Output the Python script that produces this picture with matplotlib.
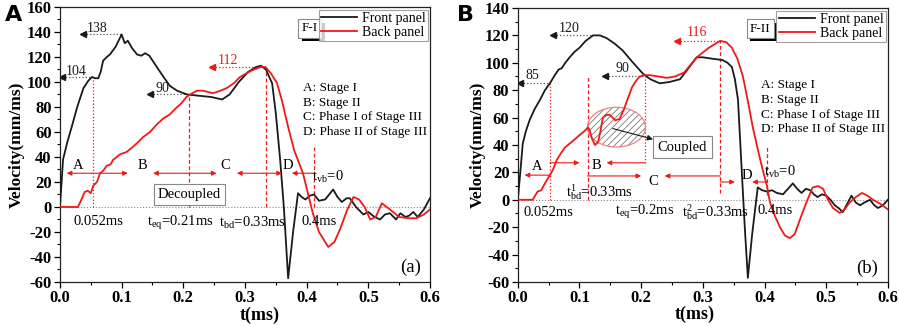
import numpy as np
import matplotlib
matplotlib.use('Agg')
import matplotlib.pyplot as plt
import matplotlib.patheffects as pe
from matplotlib.patches import Ellipse

plt.rcParams['font.family'] = ['Liberation Serif', 'DejaVu Serif']
plt.rcParams['mathtext.fontset'] = 'custom'
plt.rcParams['mathtext.rm'] = 'Liberation Serif'
plt.rcParams['mathtext.it'] = 'Liberation Serif'
plt.rcParams['hatch.linewidth'] = 0.6

# ---- panel (a) F-I ----
tA_front = [0, 0.005, 0.012, 0.019, 0.028, 0.038, 0.046, 0.052, 0.057, 0.062, 0.066, 0.07, 0.076, 0.081,
            0.09, 0.1, 0.105, 0.11, 0.117, 0.125, 0.132, 0.138, 0.145, 0.157, 0.168, 0.178, 0.19, 0.206,
            0.225, 0.245, 0.263, 0.275, 0.29, 0.305, 0.318, 0.326, 0.334, 0.344, 0.35, 0.357, 0.363, 0.37,
            0.378, 0.386, 0.392, 0.398, 0.405, 0.412, 0.42, 0.43, 0.443, 0.45, 0.457, 0.465, 0.47, 0.48,
            0.492, 0.5, 0.51, 0.519, 0.527, 0.535, 0.545, 0.552, 0.56, 0.566, 0.573, 0.58, 0.59, 0.6]
vA_front = [0, 38, 52, 64, 80, 95, 101, 104, 103, 103, 108, 117, 120, 122,
            128, 138, 131, 133, 127, 122, 121, 123, 121, 112, 104, 97, 93, 90,
            89, 88, 86, 90, 100, 108, 112, 113, 110, 99, 75, 38, 0, -57,
            -20, 11, 8, 6, 9, 10, 5, 6, 14, 8, 4, 7, 7, 0,
            -6, -4, -8, -10, -6, -5, -10, -5, -8, -7, -4, -8, -2, 7]
tA_back = [0, 0.029, 0.034, 0.04, 0.045, 0.05, 0.054, 0.06, 0.065, 0.07, 0.076, 0.082, 0.086, 0.097,
           0.108, 0.118, 0.127, 0.135, 0.146, 0.157, 0.168, 0.178, 0.188, 0.197, 0.205, 0.211, 0.222,
           0.232, 0.248, 0.26, 0.27, 0.282, 0.292, 0.31, 0.325, 0.333, 0.342, 0.352, 0.36, 0.37, 0.38,
           0.394, 0.41, 0.42, 0.435, 0.445, 0.454, 0.466, 0.476, 0.485, 0.494, 0.503, 0.512, 0.522,
           0.535, 0.55, 0.565, 0.578, 0.59, 0.6]
vA_back = [0, 0, 5, 12, 13, 11, 17, 20, 27, 29, 33, 34, 37.6, 42,
           44, 48, 52, 56, 60, 66, 71, 74, 79, 83, 88, 90, 93,
           93, 91, 93, 95, 99, 104, 109, 112, 112, 107, 99, 85, 64, 45,
           27, -5, -20, -32, -28, -18, -2, 8, 6, 0, -10, -8, 3,
           -2, -8, -9, -9, -6, -2]

# ---- panel (b) F-II ----
tB_front = [0, 0.004, 0.008, 0.013, 0.019, 0.027, 0.036, 0.044, 0.052, 0.056, 0.06, 0.066, 0.071, 0.077,
            0.084, 0.092, 0.1, 0.11, 0.122, 0.133, 0.144, 0.157, 0.17, 0.185, 0.203, 0.215, 0.23, 0.246,
            0.263, 0.275, 0.29, 0.3, 0.315, 0.332, 0.34, 0.347, 0.352, 0.357, 0.363, 0.368, 0.373, 0.38,
            0.389, 0.396, 0.404, 0.412, 0.42, 0.43, 0.438, 0.446, 0.453, 0.46, 0.467, 0.474, 0.48, 0.486,
            0.493, 0.5, 0.507, 0.514, 0.52, 0.527, 0.534, 0.541, 0.548, 0.555, 0.562, 0.571, 0.578, 0.584,
            0.592, 0.6]
vB_front = [0, 20, 41, 50, 58, 66, 73, 80, 85, 88, 91, 95, 96, 100,
            104, 108, 111, 116, 120, 120, 118, 114, 109, 101, 92, 88, 85, 86,
            88, 95, 104, 104, 103, 102, 100, 97, 88, 73, 22, -20, -57, -25,
            9, 7, 6, 7, 5, 4, 8, 12, 8, 5, 8, 7, 4, 2,
            4, 3, 0, -4, -6, -9, -3, 3, -2, -4, -2, 0, -4, -6,
            -4, 0]
tB_back = [0, 0.024, 0.028, 0.032, 0.038, 0.044, 0.048, 0.052, 0.057, 0.063, 0.07, 0.076, 0.084, 0.092,
           0.097, 0.105, 0.11, 0.114, 0.117, 0.12, 0.125, 0.13, 0.134, 0.138, 0.144, 0.149, 0.158, 0.165,
           0.172, 0.185, 0.192, 0.198, 0.206, 0.214, 0.228, 0.241, 0.255, 0.27, 0.29, 0.31, 0.328, 0.338,
           0.347, 0.356, 0.365, 0.373, 0.381, 0.39, 0.397, 0.404, 0.409, 0.417, 0.425, 0.433, 0.441, 0.449,
           0.457, 0.467, 0.478, 0.487, 0.495, 0.503, 0.511, 0.522, 0.53, 0.538, 0.548, 0.558, 0.567, 0.576,
           0.588, 0.6]
vB_back = [0, 0, 3, 6, 7, 12, 15, 18, 22, 29, 34, 38, 41, 44,
           46, 49, 51, 53, 50, 45, 40, 42, 50, 60, 62, 62, 58, 59,
           66, 82, 87, 90, 91, 91, 90, 89, 90, 93, 104, 111, 116, 115,
           111, 103, 90, 72, 53, 35, 22, 10, -2, -12, -20, -26, -28, -25,
           -15, -3, 9, 10, 8, 0, -6, -9.6, -7, -2, 2, 5, 3, 0,
           -3, -7]

x_ticks = [0.0, 0.1, 0.2, 0.3, 0.4, 0.5, 0.6]
stage_text = 'A: Stage I\nB: Stage II\nC: Phase I of Stage III\nD: Phase II of Stage III'

BLACK = '#1a1a1a'
RED = '#f01818'
GREY = '#555555'


def value_mark(ax, x_peak, x_head, y, label, color, tx, ty):
    ax.plot([x_head, x_peak], [y, y], ':', color=GREY if color == BLACK else color, lw=0.9)
    ax.plot([x_head], [y], marker='<', color=color, ms=4, mec=color)
    ax.text(tx, ty, label, color=color, fontsize=10, ha='center', va='center')


def stage_arrow(ax, x0, x1, y):
    ax.annotate('', xy=(x1, y), xytext=(x0, y),
                arrowprops=dict(arrowstyle='-|>', color=RED, lw=0.8, mutation_scale=7,
                                shrinkA=0, shrinkB=0))


def base_axes(ax, ymax, tag, tag_xy):
    y_ticks = list(range(-60, ymax + 1, 20))
    ax.set_xlim(0, 0.6)
    ax.set_ylim(-60, ymax)
    ax.set_xticks(x_ticks)
    ax.set_xticklabels(['%.1f' % v for v in x_ticks], fontweight='bold', fontsize=12)
    ax.set_xticks(np.arange(0, 0.61, 0.05), minor=True)
    ax.set_yticks(y_ticks)
    ax.set_yticklabels([str(v) for v in y_ticks], fontweight='bold', fontsize=12)
    ax.set_yticks(np.arange(-60, ymax + 1, 10), minor=True)
    ax.tick_params(which='major', direction='out', length=4, width=0.9, pad=2)
    ax.tick_params(which='minor', direction='out', length=2, width=0.8)
    for s in ax.spines.values():
        s.set_color('#222222')
        s.set_linewidth(0.9)
    ax.set_ylabel('Velocity(mm/ms)', fontsize=12.5, fontweight='bold')
    ax.set_xlabel('t(ms)', fontsize=13, fontweight='bold')
    ax.axhline(0, color='#888888', ls=':', lw=0.8, zorder=1)
    # F-I / F-II tag with a black drop shadow
    t = ax.text(tag_xy[0], tag_xy[1], tag, transform=ax.transAxes, fontsize=9.5, ha='center', va='center',
                zorder=5, bbox=dict(boxstyle='square,pad=0.25', facecolor='white', edgecolor='#888888', lw=0.8))
    t.get_bbox_patch().set_path_effects([
        pe.SimplePatchShadow(offset=(2.5, -2.5), shadow_rgbFace='black', alpha=1.0), pe.Normal()])
    leg = ax.legend(loc='upper right', bbox_to_anchor=(0.995, 0.99), fontsize=10, fancybox=False,
                    edgecolor='#888888', handlelength=2.6, borderpad=0.15, labelspacing=0.1,
                    handletextpad=0.4, borderaxespad=0)
    leg.get_frame().set_linewidth(0.8)


fig = plt.figure(figsize=(8.99, 3.26), dpi=100)
axA = fig.add_axes([0.0667, 0.135, 0.4116, 0.8436])
axB = fig.add_axes([0.576, 0.135, 0.4116, 0.8405])

# ---------- panel A ----------
ax = axA
ax.plot(tA_front, vA_front, color=BLACK, lw=1.3, label='Front panel', zorder=3)
ax.plot(tA_back, vA_back, color=RED, lw=1.3, label='Back panel', zorder=3)
base_axes(ax, 160, 'F-I', (0.675, 0.922))
ax.yaxis.set_label_coords(-0.095, 0.5)
ax.xaxis.set_label_coords(0.54, -0.088)

ax.plot([0.054, 0.054], [0, 104], ':', color=RED, lw=0.9)
ax.plot([0.21, 0.21], [0, 90], '--', color=RED, lw=0.9, dashes=(3, 2))
ax.plot([0.334, 0.334], [0, 112], '--', color=RED, lw=0.9, dashes=(3, 2))
ax.plot([0.412, 0.412], [0, 48], '--', color=RED, lw=0.9, dashes=(3, 2))

value_mark(ax, 0.052, 0.004, 104, '104', BLACK, 0.026, 108.5)
value_mark(ax, 0.1, 0.037, 138, '138', BLACK, 0.06, 142.5)
value_mark(ax, 0.21, 0.146, 90, '90', BLACK, 0.166, 95)
value_mark(ax, 0.33, 0.246, 112, '112', RED, 0.272, 117.5)

for x0, x1 in [(0.052, 0.011), (0.052, 0.11), (0.21, 0.151), (0.21, 0.254),
               (0.33, 0.287), (0.33, 0.36), (0.412, 0.376)]:
    stage_arrow(ax, x0, x1, 27)
for lx, l in [(0.03, 'A'), (0.133, 'B'), (0.268, 'C'), (0.37, 'D')]:
    ax.text(lx, 33.5, l, fontsize=10.5, ha='center', va='center')

ax.text(0.21, 10, 'Decoupled', fontsize=10.5, ha='center', va='center',
        bbox=dict(boxstyle='square,pad=0.3', facecolor='white', edgecolor='#888888', lw=0.8), zorder=2)
ax.text(0.063, -12, '0.052ms', fontsize=10.5, ha='center', va='center')
ax.text(0.195, -13, r'$\mathrm{t_{eq}}$=0.21ms', fontsize=10.5, ha='center', va='center')
ax.text(0.313, -13, r'$\mathrm{t_{bd}}$=0.33ms', fontsize=10.5, ha='center', va='center')
ax.text(0.42, -12, '0.4ms', fontsize=10.5, ha='center', va='center')
ax.text(0.435, 24, r'$\mathrm{t_{vb}}$=0', fontsize=10.5, ha='center', va='center')
ax.text(0.394, 100, stage_text, fontsize=9.5, ha='left', va='top', linespacing=1.3)
ax.text(0.568, -48, '(a)', fontsize=13.5, ha='center', va='center')

# ---------- panel B ----------
ax = axB
ax.plot(tB_front, vB_front, color=BLACK, lw=1.3, label='Front panel', zorder=3)
ax.plot(tB_back, vB_back, color=RED, lw=1.3, label='Back panel', zorder=3)
base_axes(ax, 140, 'F-II', (0.655, 0.925))
ax.yaxis.set_label_coords(-0.086, 0.5)
ax.xaxis.set_label_coords(0.478, -0.088)

ax.plot([0.052, 0.052], [0, 85], ':', color=RED, lw=0.9)
ax.plot([0.113, 0.113], [0, 91], '--', color=RED, lw=0.9, dashes=(3, 2))
ax.plot([0.206, 0.206], [27, 90], ':', color=RED, lw=0.9)
ax.plot([0.328, 0.328], [5, 116], '--', color=RED, lw=0.9, dashes=(3, 2))
ax.plot([0.404, 0.404], [3.5, 38.5], '--', color=RED, lw=0.9, dashes=(3, 2))

value_mark(ax, 0.052, 0.003, 85, '85', BLACK, 0.024, 91)
value_mark(ax, 0.12, 0.057, 120, '120', BLACK, 0.084, 125)
value_mark(ax, 0.206, 0.141, 90, '90', BLACK, 0.17, 96)
value_mark(ax, 0.328, 0.258, 116, '116', RED, 0.29, 122)

for x0, x1, y in [(0.052, 0.011, 18), (0.052, 0.1, 27), (0.206, 0.144, 27), (0.113, 0.2, 17.4),
                  (0.328, 0.238, 17.4), (0.328, 0.352, 13), (0.404, 0.38, 13)]:
    stage_arrow(ax, x0, x1, y)
for lx, ly, l in [(0.031, 24, 'A'), (0.128, 25, 'B'), (0.22, 13, 'C'), (0.371, 18, 'D')]:
    ax.text(lx, ly, l, fontsize=10.5, ha='center', va='center')

ax.add_patch(Ellipse((0.16, 53), 0.094, 29, facecolor='none', edgecolor='#777777', lw=0,
                     hatch='/////', zorder=2))
ax.add_patch(Ellipse((0.16, 53), 0.094, 29, facecolor='none', edgecolor='#f08080', lw=0.9, zorder=2))
ax.annotate('Coupled', xy=(0.154, 52), xytext=(0.267, 38.5), fontsize=10.5, ha='center', va='center',
            bbox=dict(boxstyle='square,pad=0.3', facecolor='white', edgecolor='#888888', lw=0.8),
            arrowprops=dict(arrowstyle='<|-', color=BLACK, lw=0.8, mutation_scale=8, shrinkA=0, shrinkB=0))

ax.text(0.049, -9, '0.052ms', fontsize=10.5, ha='center', va='center')
ax.text(0.133, 5.5, r'$\mathrm{t^{1}_{bd}}$=0.33ms', fontsize=10.5, ha='center', va='center')
ax.text(0.206, -9, r'$\mathrm{t_{eq}}$=0.2ms', fontsize=10.5, ha='center', va='center')
ax.text(0.266, -9, r'$\mathrm{t^{2}_{bd}}$=0.33ms', fontsize=10.5, ha='left', va='center')
ax.text(0.417, -8, '0.4ms', fontsize=10.5, ha='center', va='center')
ax.text(0.425, 20, r'$\mathrm{t_{vb}}$=0', fontsize=10.5, ha='center', va='center')
ax.text(0.394, 88, stage_text, fontsize=9.5, ha='left', va='top', linespacing=1.3)
ax.text(0.566, -50, '(b)', fontsize=13.5, ha='center', va='center')

fig.text(0.015, 0.955, 'A', fontsize=16, fontweight='bold', family='DejaVu Sans', ha='center', va='center')
fig.text(0.518, 0.955, 'B', fontsize=16, fontweight='bold', family='DejaVu Sans', ha='center', va='center')

fig.savefig('out.png', dpi=100)
